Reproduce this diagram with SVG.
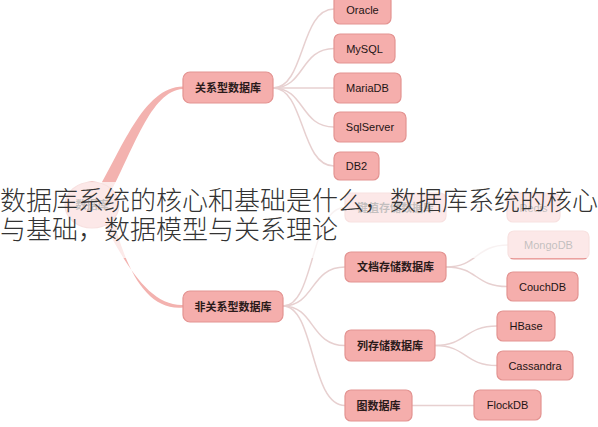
<svg xmlns="http://www.w3.org/2000/svg" width="598" height="427" viewBox="0 0 598 427">
<style>
.n{fill:#f5aeac;stroke:#e39391;stroke-width:1.2}
.c{fill:none;stroke:#e7d0d0;stroke-width:1.5}
.br{fill:#f3b2af;stroke:none}
.zh{font-family:"Noto Sans CJK SC","Noto Sans",sans-serif;font-size:11px;font-weight:bold;fill:#2a1a1a;text-anchor:middle}
.en{font-family:"Liberation Sans",Arial,sans-serif;font-size:11px;fill:#1e1414;text-anchor:middle}
.ov{font-family:"Noto Sans CJK SC","Noto Sans",sans-serif;font-size:26px;font-weight:300;fill:#333333}
</style>
<rect width="598" height="427" fill="#ffffff"/>
<g id="connectors">
<path class="br" d="M93,198 C122,150 143,87 183,86.5 L183,89 C150,91 134,150 106,201 Z"/>
<path class="br" d="M98,212 C124,262 148,306 183,305 L183,307.5 C145,311 124,266 111,209 Z"/>
<path class="c" d="M273,88 C305,88 300,9 334,9"/>
<path class="c" d="M273,88 C305,88 300,48.5 334,48.5"/>
<path class="c" d="M273,88 L334,88"/>
<path class="c" d="M273,88 C305,88 300,127 334,127"/>
<path class="c" d="M273,88 C305,88 300,166 334,166"/>
<path class="c" d="M283,306 C315,306 310,207.5 345,207.5"/>
<path class="c" d="M283,306 C315,306 310,267 345,267"/>
<path class="c" d="M283,306 C315,306 310,345.5 345,345.5"/>
<path class="c" d="M283,306 C315,306 310,405.5 345,405.5"/>
<path class="c" d="M446,207.5 L507,207.5"/>
<path class="c" d="M446,267 C478,267 475,245 508,245"/>
<path class="c" d="M446,267 C478,267 475,286.5 507,286.5"/>
<path class="c" d="M435,345.5 C467,345.5 464,326 497,326"/>
<path class="c" d="M435,345.5 C467,345.5 464,365.5 497,365.5"/>
<path class="c" d="M412,405.5 L474,405.5"/>
</g>
<g id="root"><ellipse class="n" cx="92" cy="205" rx="27" ry="23"/><text class="zh" x="92" y="209">数据库</text></g>
<g id="rel"><rect class="n" x="183" y="72" width="90" height="31" rx="7"/><text class="zh" x="228" y="91.5">关系型数据库</text></g>
<g id="nonrel"><rect class="n" x="183" y="291" width="100" height="31" rx="7"/><text class="zh" x="233" y="310.5">非关系型数据库</text></g>
<g id="oracle"><rect class="n" x="334" y="-5" width="57" height="29" rx="6"/><text class="en" x="362.5" y="13.5">Oracle</text></g>
<g id="mysql"><rect class="n" x="334" y="34" width="61" height="29" rx="6"/><text class="en" x="364.5" y="52.5">MySQL</text></g>
<g id="mariadb"><rect class="n" x="334" y="73" width="67" height="30" rx="6"/><text class="en" x="367.5" y="92">MariaDB</text></g>
<g id="sqlserver"><rect class="n" x="334" y="112" width="72" height="30" rx="6"/><text class="en" x="370" y="131">SqlServer</text></g>
<g id="db2"><rect class="n" x="334" y="152" width="45" height="28" rx="6"/><text class="en" x="356.5" y="170">DB2</text></g>
<g id="kv"><rect class="n" x="345" y="193" width="101" height="29" rx="6"/><text class="zh" x="395.5" y="211.5">键值存储数据库</text></g>
<g id="redis"><rect class="n" x="507" y="193" width="53" height="29" rx="6"/><text class="en" x="533.5" y="211.5">Redis</text></g>
<g id="mongodb"><rect class="n" x="508" y="231" width="81" height="28" rx="6"/><text class="en" x="548.5" y="249">MongoDB</text></g>
<rect x="0" y="182" width="598" height="76" fill="#ffffff" fill-opacity="0.72"/>
<g id="doc"><rect class="n" x="345" y="252" width="101" height="30" rx="6"/><text class="zh" x="395.5" y="271">文档存储数据库</text></g>
<g id="couchdb"><rect class="n" x="507" y="272" width="71" height="29" rx="6"/><text class="en" x="542.5" y="290.5">CouchDB</text></g>
<g id="col"><rect class="n" x="345" y="330" width="90" height="31" rx="6"/><text class="zh" x="390" y="349.5">列存储数据库</text></g>
<g id="hbase"><rect class="n" x="497" y="311" width="58" height="30" rx="6"/><text class="en" x="526" y="330">HBase</text></g>
<g id="cassandra"><rect class="n" x="497" y="351" width="76" height="29" rx="6"/><text class="en" x="535" y="369.5">Cassandra</text></g>
<g id="graph"><rect class="n" x="345" y="390" width="67" height="31" rx="6"/><text class="zh" x="378.5" y="409.5">图数据库</text></g>
<g id="flockdb"><rect class="n" x="474" y="390" width="67" height="30" rx="6"/><text class="en" x="507.5" y="409">FlockDB</text></g>
<g id="title">
<text class="ov" x="0" y="210">数据库系统的核心和基础是什么，数据库系统的核心</text>
<text class="ov" x="0" y="239">与基础，数据模型与关系理论</text>
</g>
</svg>
